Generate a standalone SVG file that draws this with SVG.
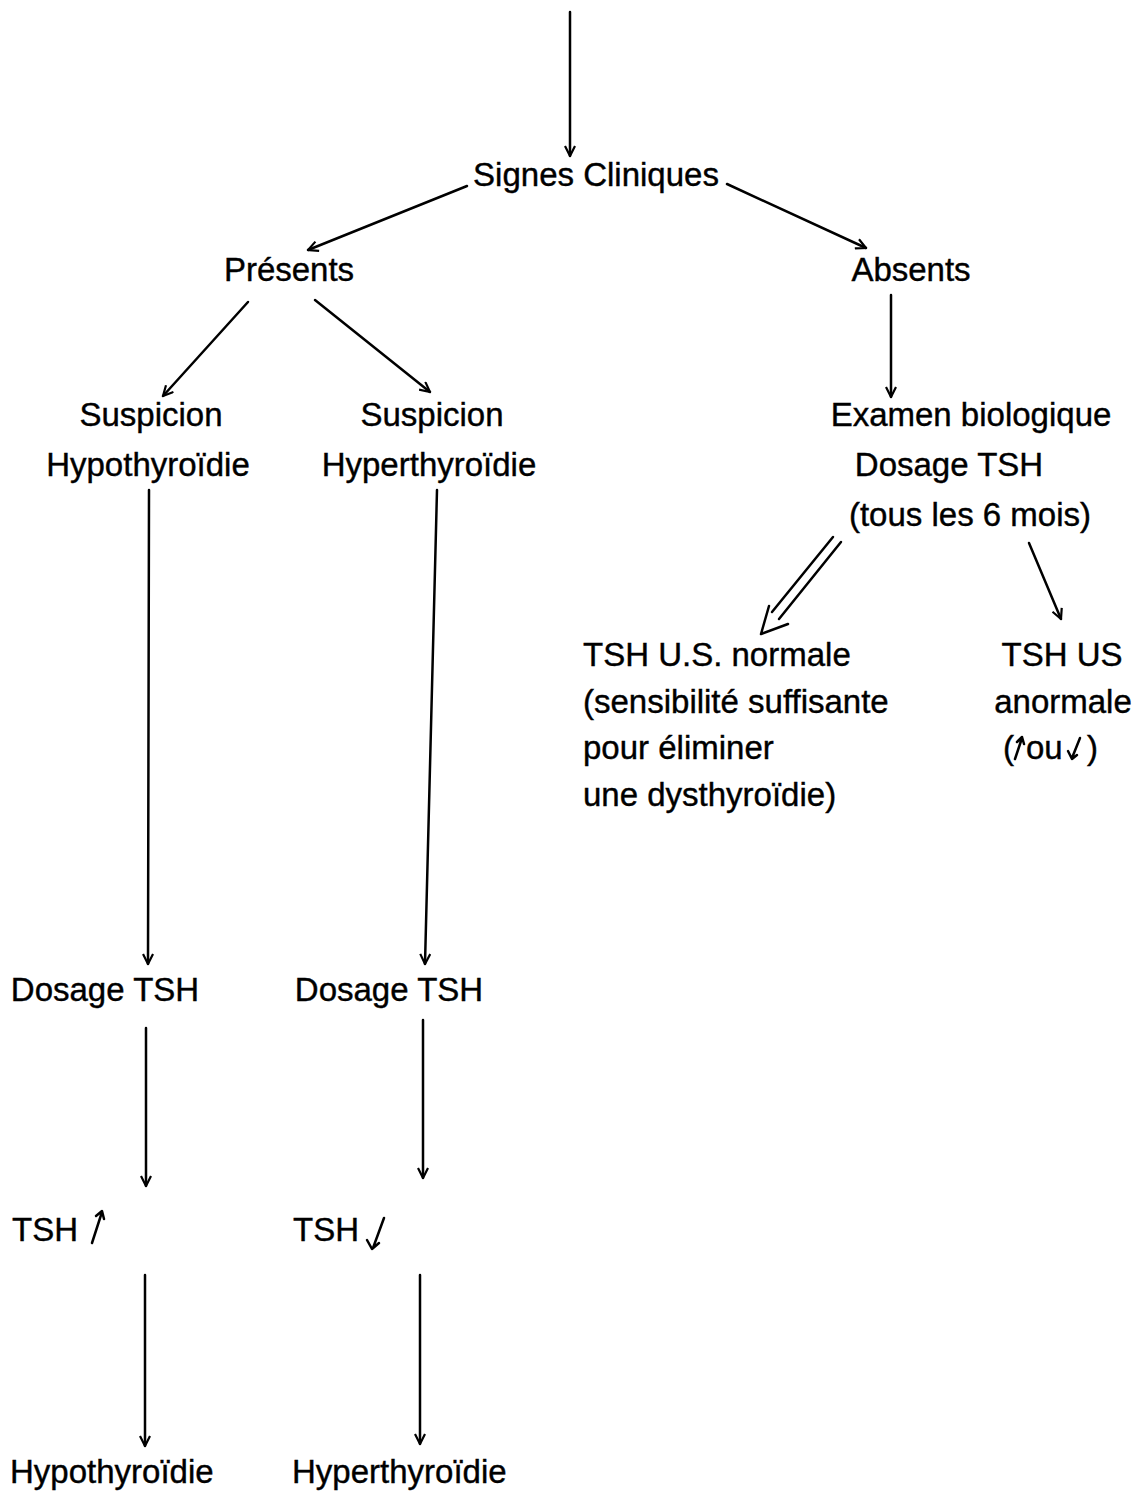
<svg xmlns="http://www.w3.org/2000/svg" width="1135" height="1492" viewBox="0 0 1135 1492">
<style>
text{font-family:"Liberation Sans",Arial,Helvetica,sans-serif;font-size:33px;fill:#000;stroke:#000;stroke-width:0.4}
.c{text-anchor:middle}
.ln{stroke:#000;stroke-width:2.5;fill:none;stroke-linecap:round}
.hd{stroke:#000;stroke-width:2.5;fill:none;stroke-linecap:round;stroke-linejoin:round}
</style>
<defs>
<marker id="ah" viewBox="0 0 12 12" refX="11" refY="6" markerWidth="12" markerHeight="12" markerUnits="userSpaceOnUse" orient="auto">
<path d="M1,1 L11,6 L1,11" fill="none" stroke="#000" stroke-width="2.2"/>
</marker>
</defs>
<rect width="1135" height="1492" fill="#fff"/>
<g id="connectors">
<line class="ln" x1="570" y1="12" x2="570" y2="156" marker-end="url(#ah)"/>
<line class="ln" x1="467" y1="186" x2="308" y2="250" marker-end="url(#ah)"/>
<line class="ln" x1="727" y1="184" x2="866" y2="248" marker-end="url(#ah)"/>
<line class="ln" x1="248" y1="302" x2="163" y2="396" marker-end="url(#ah)"/>
<line class="ln" x1="315" y1="300" x2="430" y2="392" marker-end="url(#ah)"/>
<line class="ln" x1="891" y1="295" x2="891" y2="397" marker-end="url(#ah)"/>
<line class="ln" x1="149" y1="490" x2="148" y2="964" marker-end="url(#ah)"/>
<line class="ln" x1="437" y1="490" x2="425" y2="964" marker-end="url(#ah)"/>
<line class="ln" x1="146" y1="1028" x2="146" y2="1186" marker-end="url(#ah)"/>
<line class="ln" x1="423" y1="1020" x2="423" y2="1178" marker-end="url(#ah)"/>
<line class="ln" x1="145" y1="1275" x2="145" y2="1446" marker-end="url(#ah)"/>
<line class="ln" x1="420" y1="1275" x2="420" y2="1444" marker-end="url(#ah)"/>
<line class="ln" x1="1029" y1="543" x2="1061" y2="619" marker-end="url(#ah)"/>
<g id="double-arrow">
<line class="ln" x1="833" y1="537" x2="772" y2="612"/>
<line class="ln" x1="841" y1="542" x2="779" y2="619"/>
<path class="hd" d="M769,606 L761,634 L788,624"/>
</g>
</g>
<g id="n-signes"><text class="c" x="596" y="186">Signes Cliniques</text></g>
<g id="n-presents"><text class="c" x="289" y="281">Présents</text></g>
<g id="n-absents"><text class="c" x="911" y="281">Absents</text></g>
<g id="n-susp-hypo"><text class="c" x="151" y="426">Suspicion</text><text class="c" x="148" y="476">Hypothyroïdie</text></g>
<g id="n-susp-hyper"><text class="c" x="432" y="426">Suspicion</text><text class="c" x="429" y="476">Hyperthyroïdie</text></g>
<g id="n-examen"><text class="c" x="971" y="426">Examen biologique</text><text class="c" x="949" y="476">Dosage TSH</text><text class="c" x="970" y="526">(tous les 6 mois)</text></g>
<g id="n-normale"><text x="583" y="666">TSH U.S. normale</text><text x="583" y="713">(sensibilité suffisante</text><text x="583" y="759">pour éliminer</text><text x="583" y="806">une dysthyroïdie)</text></g>
<g id="n-anormale"><text class="c" x="1062" y="666">TSH US</text><text class="c" x="1063" y="713">anormale</text>
<text x="1003" y="759">(</text><path class="hd" d="M1015,759 L1022,738 M1017,742 L1022,737 L1024,744"/><text x="1026" y="759">ou</text><path class="hd" d="M1080,738 L1072,758 M1068,751 L1072,759 L1077,755"/><text x="1087" y="759">)</text></g>
<g id="n-dosage-l"><text class="c" x="105" y="1001">Dosage TSH</text></g>
<g id="n-dosage-m"><text class="c" x="389" y="1001">Dosage TSH</text></g>
<g id="n-tsh-up"><text x="12" y="1241">TSH</text><path class="hd" d="M92,1243 L102,1212 M96,1216 L102,1211 L104,1219"/></g>
<g id="n-tsh-down"><text x="293" y="1241">TSH</text><path class="hd" d="M384,1218 L373,1248 M367,1240 L372,1249 L379,1243"/></g>
<g id="n-hypo"><text x="10" y="1483">Hypothyroïdie</text></g>
<g id="n-hyper"><text x="292" y="1483">Hyperthyroïdie</text></g>
</svg>
